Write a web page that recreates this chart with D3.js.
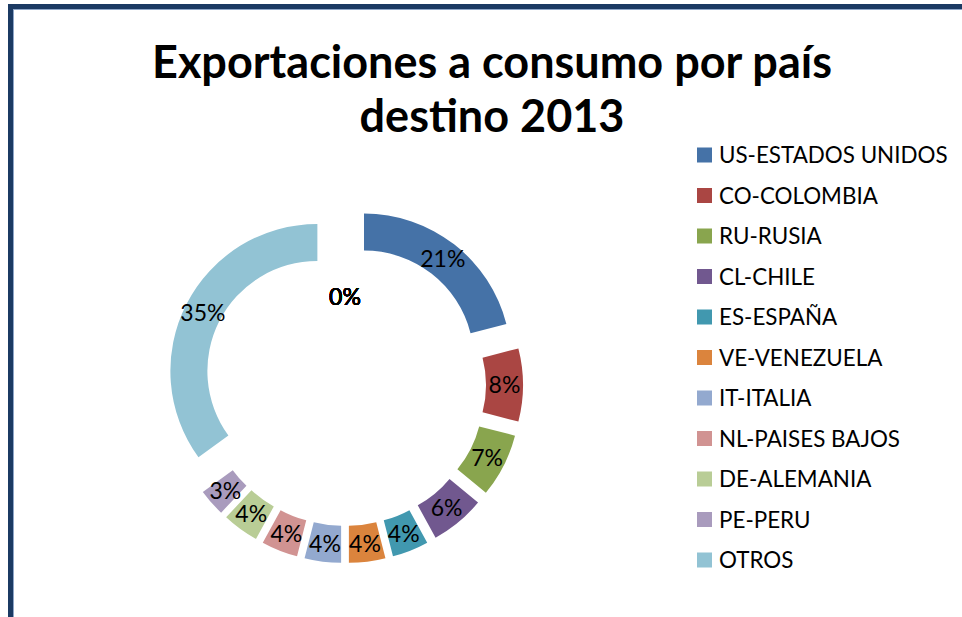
<!DOCTYPE html>
<html>
<head>
<meta charset="utf-8">
<script src="https://cdn.jsdelivr.net/npm/d3@7"></script>
<style>
  body { margin: 0; background: #fff; }
  text { font-family: Lato, "Open Sans", sans-serif; }
</style>
</head>
<body>
<div id="chart"></div>
<script>
// categories and values
const categories = ["US-ESTADOS UNIDOS", "CO-COLOMBIA", "RU-RUSIA", "CL-CHILE", "ES-ESPAÑA",
                    "VE-VENEZUELA", "IT-ITALIA", "NL-PAISES BAJOS", "DE-ALEMANIA", "PE-PERU", "OTROS"];
const shares = [21, 8, 7, 6, 4, 4, 4, 4, 4, 3, 35];
// inner series is empty, only its 0% labels show up
const innerShares = [0, 0, 0, 0, 0, 0, 0, 0, 0, 0, 0];
const colors = ["#4572A7", "#AA4643", "#89A54E", "#71588F", "#4198AF", "#DB843D",
                "#93A9CF", "#D19392", "#B9CD96", "#A99BBD", "#92C3D4"];
const titleLines = ["Exportaciones a consumo por país", "destino 2013"];

let w = 962,
    h = 617;

let cx = 345,
    cy = 385,
    outerR = 147,
    innerR = 110,
    explode = 31;

let svg = d3.select("#chart")
            .append("svg")
            .attr("width", w)
            .attr("height", h);

svg.append("rect")
   .attr("width", w)
   .attr("height", h)
   .attr("fill", "#fff");

// chart frame (only top and left edges are visible)
svg.append("rect")
   .attr("x", 10.5)
   .attr("y", 6.5)
   .attr("width", w + 20)
   .attr("height", h + 20)
   .attr("fill", "none")
   .attr("stroke", "#1B3A63")
   .attr("stroke-width", 5);

svg.append("rect")
   .attr("x", 13.5)
   .attr("y", 9.5)
   .attr("width", w + 20)
   .attr("height", h + 20)
   .attr("fill", "none")
   .attr("stroke", "#8EA6C8")
   .attr("stroke-width", 1);

// title
svg.append("g")
   .selectAll("text")
   .data(titleLines)
   .enter()
   .append("text")
   .attr("x", 492)
   .attr("y", (d, i) => 78 + i * 54)
   .attr("text-anchor", "middle")
   .style("font-size", "45px")
   .style("font-weight", "bold")
   .style("fill", "#000")
   .text(d => d);

let pie = d3.pie()
            .sort(null)
            .value(d => d);

let arc = d3.arc()
            .innerRadius(innerR)
            .outerRadius(outerR);

let innerArc = d3.arc()
                 .innerRadius(70)
                 .outerRadius(106);

let ring = svg.append("g")
              .attr("transform", `translate(${cx}, ${cy})`);

// push every slice out along its middle angle
let shift = d => {
  let mid = (d.startAngle + d.endAngle) / 2;
  return `translate(${explode * Math.sin(mid)}, ${-explode * Math.cos(mid)})`;
}

let slices = ring.selectAll(".slice")
                 .data(pie(shares))
                 .enter()
                 .append("g")
                 .attr("class", "slice")
                 .attr("transform", shift);

slices.append("path")
      .attr("d", arc)
      .style("fill", (d, i) => colors[i]);

slices.append("text")
      .attr("transform", d => `translate(${arc.centroid(d)})`)
      .attr("text-anchor", "middle")
      .attr("dy", "0.36em")
      .style("font-size", "23px")
      .style("fill", "#000")
      .text(d => `${d.value}%`);

// labels of the empty inner series, all stacked at the top
ring.selectAll(".zero")
    .data(pie(innerShares))
    .enter()
    .append("text")
    .attr("class", "zero")
    .attr("transform", d => `translate(${innerArc.centroid(d)})`)
    .attr("text-anchor", "middle")
    .attr("dy", "0.36em")
    .style("font-size", "23px")
    .style("fill", "#000")
    .text(d => `${d.value}%`);

// legend
let legend = svg.append("g")
                .attr("transform", "translate(697, 155)");

let rows = legend.selectAll(".row")
                 .data(categories)
                 .enter()
                 .append("g")
                 .attr("class", "row")
                 .attr("transform", (d, i) => `translate(0, ${i * 40.5})`);

rows.append("rect")
    .attr("x", 0)
    .attr("y", -7.5)
    .attr("width", 15)
    .attr("height", 15)
    .style("fill", (d, i) => colors[i]);

rows.append("text")
    .attr("x", 22)
    .attr("dy", "0.36em")
    .style("font-size", "22.4px")
    .style("fill", "#000")
    .text(d => d);
</script>
</body>
</html>
